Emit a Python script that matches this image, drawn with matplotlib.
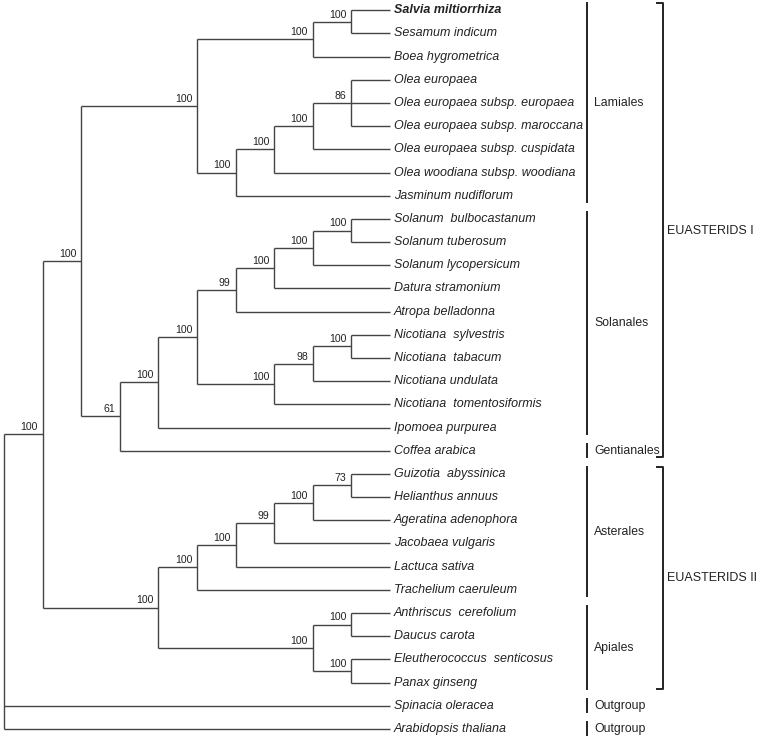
import matplotlib.pyplot as plt

plt.rcParams['font.family'] = ['Liberation Sans', 'DejaVu Sans']

species = [
    "Salvia miltiorrhiza", "Sesamum indicum", "Boea hygrometrica",
    "Olea europaea", "Olea europaea subsp. europaea",
    "Olea europaea subsp. maroccana", "Olea europaea subsp. cuspidata",
    "Olea woodiana subsp. woodiana", "Jasminum nudiflorum",
    "Solanum  bulbocastanum", "Solanum tuberosum", "Solanum lycopersicum",
    "Datura stramonium", "Atropa belladonna", "Nicotiana  sylvestris",
    "Nicotiana  tabacum", "Nicotiana undulata", "Nicotiana  tomentosiformis",
    "Ipomoea purpurea", "Coffea arabica", "Guizotia  abyssinica",
    "Helianthus annuus", "Ageratina adenophora", "Jacobaea vulgaris",
    "Lactuca sativa", "Trachelium caeruleum", "Anthriscus  cerefolium",
    "Daucus carota", "Eleutherococcus  senticosus", "Panax ginseng",
    "Spinacia oleracea", "Arabidopsis thaliana",
]
bold_species = ["Salvia miltiorrhiza"]

# topologia (indeks spesies) dengan nilai bootstrap
lamiales = "(((0,1)100,2)100,((((3,4,5)86,6)100,7)100,8)100)100"
s3 = "((((9,10)100,11)100,12)100,13)99"
s7 = "(((14,15)100,16)98,17)100"
solanales = f"((({s3},{s7})100,18)100,19)61"
asterales = "(((((20,21)73,22)100,23)99,24)100,25)100"
apiales = "((26,27)100,(28,29)100)100"
newick = f"((({lamiales},{solanales})100,({asterales},{apiales})100)100,30,31)"

orders = ["Lamiales", "Solanales", "Gentianales", "Asterales", "Apiales", "Outgroup", "Outgroup"]
order_first = [0, 9, 19, 20, 26, 30, 31]
order_last = [8, 18, 19, 25, 29, 30, 31]

clades = ["EUASTERIDS I", "EUASTERIDS II"]
clade_first = [0, 20]
clade_last = [19, 29]


def parse(s, i=0):
    if s[i] == '(':
        children = []
        i += 1
        while True:
            child, i = parse(s, i)
            children.append(child)
            if s[i] == ',':
                i += 1
                continue
            i += 1
            break
        j = i
        while j < len(s) and s[j].isdigit():
            j += 1
        return {'children': children, 'support': s[i:j]}, j
    j = i
    while s[j].isdigit():
        j += 1
    return {'leaf': int(s[i:j])}, j


def height(node):
    if 'leaf' in node:
        node['h'] = 0
    else:
        node['h'] = 1 + max(height(c) for c in node['children'])
    return node['h']


def ypos(node):
    if 'leaf' in node:
        node['y'] = node['leaf']
    else:
        ys = [ypos(c) for c in node['children']]
        node['y'] = (ys[0] + ys[-1]) / 2
    return node['y']


root, _ = parse(newick)
depth = height(root)
ypos(root)

line_c = '#444444'
fig = plt.figure(figsize=(7.6, 7.4), dpi=100)
ax = fig.add_axes([0, 0, 1, 1])
ax.set_xlim(-4 / 38.6, 756 / 38.6)
ax.set_ylim(729.7 / 23.18, -10.3 / 23.18)
ax.axis('off')


def draw(node):
    x = depth - node['h']
    if 'leaf' in node:
        name = species[node['leaf']]
        ax.text(x + 0.1, node['y'], name, style='italic', fontsize=9.0,
                weight='bold' if name in bold_species else 'normal',
                va='center', ha='left', color='#222222')
        return
    ys = [c['y'] for c in node['children']]
    ax.plot([x, x], [min(ys), max(ys)], color=line_c, lw=1.0, solid_capstyle='butt')
    for c in node['children']:
        ax.plot([x, depth - c['h']], [c['y'], c['y']], color=line_c, lw=1.0,
                solid_capstyle='butt')
        draw(c)
    if node['support']:
        ax.annotate(node['support'], (x, node['y']), xytext=(-3.5, 1.5),
                    textcoords='offset points', ha='right', va='bottom',
                    fontsize=7.6, color='#222222')


draw(root)

# kurung ordo
bx = (587 - 4) / 38.6
for name, a, b in zip(orders, order_first, order_last):
    ax.plot([bx, bx], [a - 0.3, b + 0.27], color='#222222', lw=1.4)
    ax.text(bx + 0.18, (a + b) / 2, name, fontsize=8.8, va='center', ha='left',
            color='#222222')

# kurung klad
cx = (663 - 4) / 38.6
for name, a, b in zip(clades, clade_first, clade_last):
    ax.plot([cx - 0.16, cx, cx, cx - 0.16], [a - 0.3, a - 0.3, b + 0.27, b + 0.27],
            color='#222222', lw=1.4)
    ax.text(cx + 0.1, (a + b) / 2, name, fontsize=9, va='center', ha='left',
            color='#222222')

fig.savefig("out.png", dpi=100)
